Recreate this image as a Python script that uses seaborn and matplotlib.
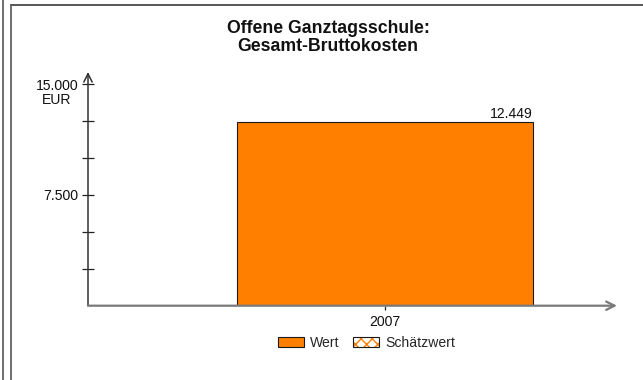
import matplotlib
matplotlib.use("Agg")
import matplotlib.pyplot as plt
from matplotlib.lines import Line2D
from matplotlib.patches import Patch
from matplotlib.legend_handler import HandlerTuple
import seaborn as sns
import pandas as pd

# Data
years = ["2007"]
wert = [12449]
y_ticks = [2500, 5000, 7500, 10000, 12500, 15000]
y_labels = ["", "", "7.500", "", "", "15.000"]
title = "Offene Ganztagsschule:\nGesamt-Bruttokosten"
unit = "EUR"

ORANGE = "#FF8000"

sns.set_theme(style="white")
plt.rcParams["font.family"] = ["Liberation Sans", "DejaVu Sans"]
plt.rcParams["hatch.linewidth"] = 1.0
FS = 10.1

W, H = 643, 380
fig = plt.figure(figsize=(W / 100, H / 100), dpi=100)

# axes placement in pixels
x0, x1 = 88, 617
y_zero, y_top = 305.7, 72
ax = fig.add_axes([x0 / W, (H - y_zero) / H, (x1 - x0) / W, (y_zero - y_top) / H])

df = pd.DataFrame({"Jahr": years, "Wert": wert})
sns.barplot(data=df, x="Jahr", y="Wert", color=ORANGE, saturation=1,
            edgecolor="#1a1a1a", linewidth=0.8, width=0.8, ax=ax)

px_per_unit = 296 / 0.8
ax.set_xlim(-(384.5 - x0) / px_per_unit, (x1 - 384.5) / px_per_unit)
ax.set_ylim(0, 15000 * (y_zero - y_top) / (y_zero - 84.3))

for s in ax.spines.values():
    s.set_visible(False)

# axis lines with open arrowheads
ax.annotate("", xy=(0, 1), xytext=(0, 0), xycoords="axes fraction",
            arrowprops=dict(arrowstyle="->,head_length=0.5,head_width=0.25",
                            color="#333333", lw=1.1, shrinkA=0, shrinkB=0))
ax.annotate("", xy=(1, 0), xytext=(0, 0), xycoords="axes fraction",
            arrowprops=dict(arrowstyle="->,head_length=0.5,head_width=0.25",
                            color="#7a7a7a", lw=1.6, shrinkA=0, shrinkB=0))

ax.set_yticks(y_ticks)
ax.set_yticklabels(y_labels)
ax.tick_params(axis="y", direction="inout", length=8, width=0.9, color="#222222",
               labelsize=FS, labelcolor="#111111", pad=3, left=True)
ax.tick_params(axis="x", direction="out", length=3, width=0.9, color="#222222",
               labelsize=FS, labelcolor="#111111", pad=4, bottom=True)
ax.set_xlabel("")
ax.set_ylabel("")
ax.annotate(unit, xy=(0, 15000), xycoords=("axes fraction", "data"),
            xytext=(-31, -15.5), textcoords="offset pixels",
            ha="center", va="center", fontsize=FS, color="#111111")

# value label on top of the bar
for bar, v in zip(ax.patches, wert):
    label = f"{v:,.0f}".replace(",", ".")
    ax.annotate(label, xy=(bar.get_x() + bar.get_width(), bar.get_height()),
                xytext=(0, 4), textcoords="offset pixels",
                ha="right", va="baseline", fontsize=FS, color="#111111")

fig.text(328 / W, 1 - 37.5 / H, title, ha="center", va="center",
         multialignment="center", fontsize=12.7, fontweight="bold",
         color="#111111", linespacing=1.1)

# legend
h_wert = Patch(facecolor=ORANGE, edgecolor="#1a1a1a", linewidth=0.8)
h_sch_fill = Patch(facecolor="white", edgecolor=ORANGE, hatch="xxx", linewidth=0)
h_sch_edge = Patch(facecolor="none", edgecolor="#1a1a1a", linewidth=0.8)
fig.legend([h_wert, (h_sch_fill, h_sch_edge)], ["Wert", "Schätzwert"],
           handler_map={tuple: HandlerTuple(ndivide=1, pad=0)},
           loc="center", bbox_to_anchor=(366.5 / W, 1 - 343 / H), ncol=2,
           frameon=False, fontsize=FS, handlelength=1.85, handleheight=0.8,
           handletextpad=0.4, columnspacing=1.0, borderpad=0)

# frame lines
fc = "#555555"
fig.add_artist(Line2D([3 / W, 3 / W], [0, 1], color=fc, lw=1.2, transform=fig.transFigure))
fig.add_artist(Line2D([11 / W, 11 / W], [0, 1 - 5 / H], color=fc, lw=1.2, transform=fig.transFigure))
fig.add_artist(Line2D([11 / W, 1], [1 - 5 / H, 1 - 5 / H], color=fc, lw=1.4, transform=fig.transFigure))

fig.savefig("out.png", dpi=100)
